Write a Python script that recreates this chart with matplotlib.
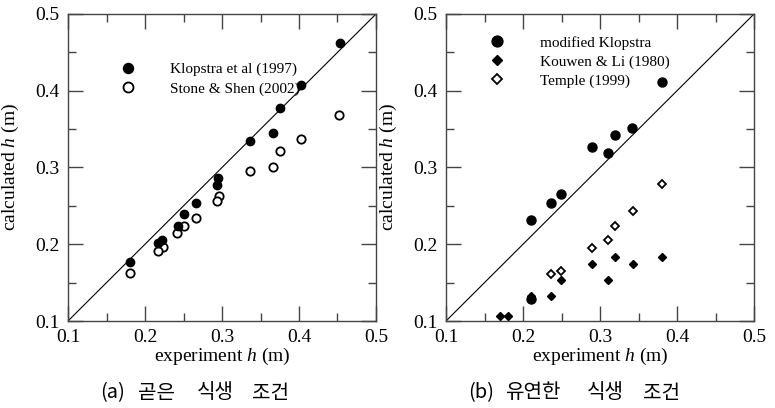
import numpy as np
import matplotlib
matplotlib.use("Agg")
import matplotlib.pyplot as plt
from matplotlib.ticker import MultipleLocator, FormatStrFormatter

plt.rcParams['font.family'] = ['Liberation Serif', 'DejaVu Serif']
plt.rcParams['mathtext.fontset'] = 'custom'
plt.rcParams['mathtext.it'] = 'Liberation Serif:italic'
plt.rcParams['mathtext.rm'] = 'Liberation Serif'

# (a) 곧은 식생 조건
klop_x = [0.453, 0.402, 0.375, 0.366, 0.336, 0.295, 0.294, 0.266, 0.250, 0.243, 0.222, 0.217, 0.180]
klop_y = [0.462, 0.408, 0.377, 0.345, 0.335, 0.286, 0.277, 0.254, 0.240, 0.224, 0.206, 0.201, 0.177]
stone_x = [0.452, 0.402, 0.375, 0.366, 0.336, 0.296, 0.293, 0.266, 0.250, 0.242, 0.223, 0.217, 0.180]
stone_y = [0.369, 0.337, 0.322, 0.301, 0.295, 0.263, 0.257, 0.234, 0.224, 0.215, 0.197, 0.191, 0.163]

# (b) 유연한 식생 조건
mod_x = [0.381, 0.342, 0.320, 0.311, 0.290, 0.249, 0.236, 0.210, 0.210]
mod_y = [0.411, 0.351, 0.342, 0.319, 0.327, 0.266, 0.254, 0.232, 0.129]
kouwen_x = [0.381, 0.343, 0.320, 0.311, 0.290, 0.249, 0.236, 0.210, 0.180, 0.170]
kouwen_y = [0.184, 0.174, 0.184, 0.154, 0.174, 0.154, 0.133, 0.133, 0.106, 0.106]
temple_x = [0.381, 0.343, 0.320, 0.311, 0.290, 0.249, 0.236]
temple_y = [0.278, 0.243, 0.224, 0.206, 0.195, 0.165, 0.161]

lims = [0.1, 0.5]

# caption words and their left edges (px)
cap_a = ['(a)', '곧은', '식생', '조건']
cap_a_x = [100, 138, 197, 252]
cap_b = ['(b)', '유연한', '식생', '조건']
cap_b_x = [468, 505, 587, 643]

fig = plt.figure(figsize=(7.75, 4.08), dpi=100)
ax1 = fig.add_axes([68/775, 87/408, 308/775, 307/408])
ax2 = fig.add_axes([446/775, 87/408, 308/775, 307/408])

def style(ax):
    ax.set_xlim(lims)
    ax.set_ylim(lims)
    ax.plot(lims, lims, color='black', lw=0.8, zorder=1)
    for axis in (ax.xaxis, ax.yaxis):
        axis.set_major_locator(MultipleLocator(0.1))
        axis.set_minor_locator(MultipleLocator(0.05))
        axis.set_major_formatter(FormatStrFormatter('%.1f'))
    ax.tick_params(which='both', direction='in', top=True, right=True,
                   color='#444444', width=1.0)
    ax.tick_params(which='major', length=11, labelsize=14, pad=6)
    ax.tick_params(which='minor', length=6)
    for s in ax.spines.values():
        s.set_color('#444444')
        s.set_linewidth(1.0)
    ax.set_xlabel('experiment $h$ (m)', fontsize=14, labelpad=0)
    ax.set_ylabel('calculated $h$ (m)', fontsize=14)
    ax.yaxis.set_label_coords(-0.152, 0.5)

style(ax1)
style(ax2)

ax1.plot(klop_x, klop_y, 'o', ms=6, mfc='black', mec='black', ls='none',
         label='Klopstra et al (1997)', zorder=3)
ax1.plot(stone_x, stone_y, 'o', ms=6, mfc='white', mec='black', mew=1.3, ls='none',
         label='Stone & Shen (2002)', zorder=2)
ax1.legend(loc='upper left', bbox_to_anchor=(0.169, 0.842), frameon=False,
           fontsize=11, markerscale=1.2, handlelength=1, handletextpad=2.3,
           labelspacing=0.35, borderpad=0, borderaxespad=0, numpoints=1)

ax2.plot(mod_x, mod_y, 'o', ms=6.5, mfc='black', mec='black', ls='none',
         label='modified Klopstra', zorder=2)
ax2.plot(kouwen_x, kouwen_y, 'D', ms=4.5, mfc='black', mec='black', ls='none',
         label='Kouwen & Li (1980)', zorder=3)
ax2.plot(temple_x, temple_y, 'D', ms=4.5, mfc='white', mec='black', mew=1.3, ls='none',
         label='Temple (1999)', zorder=3)
ax2.legend(loc='upper left', bbox_to_anchor=(0.14, 0.929), frameon=False,
           fontsize=11, markerscale=1.2, handlelength=1, handletextpad=2.3,
           labelspacing=0.35, borderpad=0, borderaxespad=0, numpoints=1)

cap_font = ['Noto Sans CJK KR', 'DejaVu Sans']
for words, xs in ((cap_a, cap_a_x), (cap_b, cap_b_x)):
    for w, x in zip(words, xs):
        fig.text(x/775, 15/408, w, ha='left', va='center',
                 fontsize=14.5, family=cap_font)

fig.savefig('out.png', dpi=100)
